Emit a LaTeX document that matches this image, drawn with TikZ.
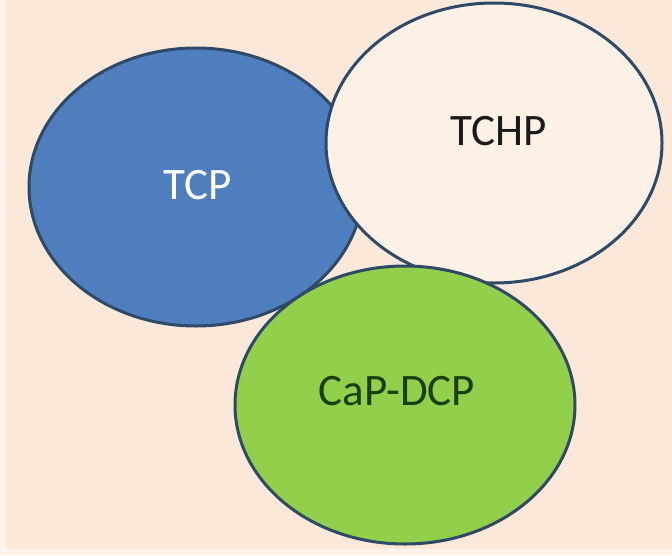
\documentclass[tikz,border=0pt]{standalone}
\usepackage{fontspec}
\setmainfont{Carlito}
\usetikzlibrary{shapes.geometric}
\definecolor{bgpeach}{HTML}{FCE8D9}
\definecolor{bgedge}{HTML}{FDF3EA}
\definecolor{tcpblue}{HTML}{4F7EBF}
\definecolor{tchpfill}{HTML}{FDF0E5}
\definecolor{dcpgreen}{HTML}{92CF4A}
\definecolor{rimline}{HTML}{2E4A66}
\definecolor{dcptext}{HTML}{1B3E12}
\definecolor{tchptext}{HTML}{1A1A1A}
\tikzset{
  blob/.style={ellipse, draw=rimline, line width=3pt, inner sep=0pt},
  lbl/.style={font=\fontsize{45}{45}\selectfont, inner sep=0pt}
}
\begin{document}
\begin{tikzpicture}[x=1pt,y=-1pt]
\useasboundingbox (0,0) rectangle (672,555);
\fill[bgedge] (0,0) rectangle (672,555);
\fill[bgpeach] (6,0) rectangle (672,549);
\node[blob, fill=tcpblue, minimum width=334pt, minimum height=278pt] (tcp) at (196,187) {};
\node[blob, fill=tchpfill, minimum width=336pt, minimum height=280pt] (tchp) at (494,143) {};
\node[blob, fill=dcpgreen, minimum width=340pt, minimum height=278pt] (dcp) at (405,405) {};
\node[lbl, text=white] (tcptext) at (198,185) {TCP};
\node[lbl, text=tchptext] (tchptext) at (499,131) {TCHP};
\node[lbl, text=dcptext] (dcptext) at (397,391) {CaP-DCP};
\end{tikzpicture}
\end{document}
